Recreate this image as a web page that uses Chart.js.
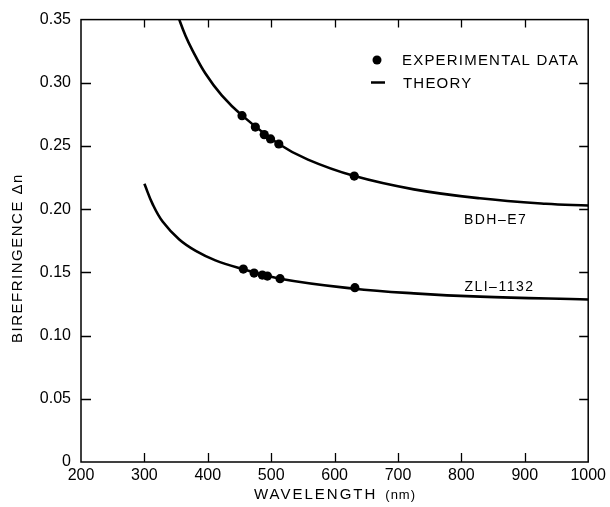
<!DOCTYPE html>
<html>
<head>
<meta charset="utf-8">
<script src="https://cdn.jsdelivr.net/npm/chart.js@4/dist/chart.umd.min.js"></script>
<style>
  html, body { margin: 0; padding: 0; background: #fff; }
  #wrap { width: 610px; height: 507px; }
</style>
</head>
<body>
<div id="wrap"><canvas id="c" width="610" height="507"></canvas></div>
<script>
// Experimental data (wavelength nm, birefringence)
const bdhExpWl = [454, 475, 489, 499, 512, 631];
const bdhExpDn = [0.274, 0.265, 0.259, 0.2556, 0.2516, 0.2262];
const zliExpWl = [456, 473, 486, 494, 514, 632];
const zliExpDn = [0.1526, 0.1495, 0.1479, 0.1471, 0.1450, 0.1379];

// Theory curves
const bdhTheoryWl = [352, 365, 376, 396, 422, 454, 512, 558, 630, 725, 829, 933, 1000];
const bdhTheoryDn = [0.354, 0.337, 0.3255, 0.3075, 0.2900, 0.2742, 0.2516, 0.2392, 0.2264, 0.2157, 0.2086, 0.2043, 0.2029];
const zliTheoryWl = [300, 313, 329, 355, 381, 412, 448, 514, 628, 725, 829, 1000];
const zliTheoryDn = [0.2201, 0.204, 0.190, 0.176, 0.167, 0.1595, 0.1536, 0.1450, 0.1373, 0.1334, 0.1308, 0.1286];

// Axis ticks
const xTickLabels = ['200', '300', '400', '500', '600', '700', '800', '900', '1000'];
const yTickLabels = ['0', '0.05', '0.10', '0.15', '0.20', '0.25', '0.30', '0.35'];

const xTitleMain = 'WAVELENGTH';
const xTitleUnit = '(nm)';
const yTitle = 'BIREFRINGENCE \u0394n';
const legendItems = ['EXPERIMENTAL DATA', 'THEORY'];
const curveLabels = ['BDH\u2013E7', 'ZLI\u20131132'];

const FONT = "'Liberation Sans', Arial, Helvetica, sans-serif";
const toXY = (xs, ys) => xs.map((x, i) => ({ x: x, y: ys[i] }));

const decor = {
  id: 'decor',
  afterDraw(chart) {
    const ctx = chart.ctx;
    const a = chart.chartArea;
    const xs = chart.scales.x, ys = chart.scales.y;
    ctx.save();
    ctx.strokeStyle = '#000';
    ctx.lineWidth = 1.5;
    ctx.strokeRect(a.left, a.top, a.right - a.left, a.bottom - a.top);
    // inward ticks on all four sides
    ctx.lineWidth = 1.3;
    ctx.beginPath();
    xs.ticks.forEach((t, i) => {
      if (i === 0 || i === xs.ticks.length - 1) return;
      const px = Math.round(xs.getPixelForValue(t.value)) + 0.5;
      ctx.moveTo(px, a.bottom); ctx.lineTo(px, a.bottom - 9);
      ctx.moveTo(px, a.top); ctx.lineTo(px, a.top + 8);
    });
    ys.ticks.forEach((t, i) => {
      if (i === 0 || i === ys.ticks.length - 1) return;
      const py = Math.round(ys.getPixelForValue(t.value)) + 0.5;
      ctx.moveTo(a.left, py); ctx.lineTo(a.left + 10, py);
      ctx.moveTo(a.right, py); ctx.lineTo(a.right - 9, py);
    });
    ctx.stroke();

    ctx.fillStyle = '#000';
    ctx.textBaseline = 'middle';
    // x axis title: main word + smaller unit
    ctx.textAlign = 'left';
    ctx.font = '15px ' + FONT;
    ctx.letterSpacing = '2px';
    const w1 = ctx.measureText(xTitleMain).width;
    ctx.font = '13px ' + FONT;
    ctx.letterSpacing = '1px';
    const w2 = ctx.measureText(xTitleUnit).width;
    const gap = 8;
    const total = w1 + gap + w2;
    const x0 = 335 - total / 2;
    ctx.font = '15px ' + FONT;
    ctx.letterSpacing = '2px';
    ctx.fillText(xTitleMain, x0, 495);
    ctx.font = '13px ' + FONT;
    ctx.letterSpacing = '1px';
    ctx.fillText(xTitleUnit, x0 + w1 + gap, 495.5);

    // y axis title
    ctx.textAlign = 'center';
    ctx.save();
    ctx.translate(18, 258);
    ctx.rotate(-Math.PI / 2);
    ctx.font = '15px ' + FONT;
    ctx.letterSpacing = '1.5px';
    ctx.fillText(yTitle, 0, 0);
    ctx.restore();

    // legend
    ctx.letterSpacing = '1.2px';
    ctx.font = '15px ' + FONT;
    ctx.textAlign = 'left';
    ctx.beginPath();
    ctx.arc(377, 60, 4.5, 0, Math.PI * 2);
    ctx.fill();
    ctx.fillText(legendItems[0], 402, 61);
    ctx.lineWidth = 2.5;
    ctx.beginPath();
    ctx.moveTo(371, 82.5); ctx.lineTo(385, 82.5);
    ctx.stroke();
    ctx.fillText(legendItems[1], 403, 84);

    // curve labels
    ctx.font = '14px ' + FONT;
    ctx.letterSpacing = '1.5px';
    ctx.textAlign = 'center';
    ctx.fillText(curveLabels[0], xs.getPixelForValue(854), ys.getPixelForValue(0.1917));
    ctx.fillText(curveLabels[1], xs.getPixelForValue(860), ys.getPixelForValue(0.1387));
    ctx.restore();
  }
};

new Chart(document.getElementById('c'), {
  type: 'scatter',
  data: {
    datasets: [
      { label: 'BDH-E7 theory', data: toXY(bdhTheoryWl, bdhTheoryDn), showLine: true, borderColor: '#000',
        borderWidth: 2.6, pointRadius: 0, tension: 0.4, fill: false },
      { label: 'ZLI-1132 theory', data: toXY(zliTheoryWl, zliTheoryDn), showLine: true, borderColor: '#000',
        borderWidth: 2.6, pointRadius: 0, tension: 0.4, fill: false },
      { label: 'BDH-E7 experimental', data: toXY(bdhExpWl, bdhExpDn), showLine: false,
        backgroundColor: '#000', borderColor: '#000', pointRadius: 4.6, borderWidth: 0 },
      { label: 'ZLI-1132 experimental', data: toXY(zliExpWl, zliExpDn), showLine: false,
        backgroundColor: '#000', borderColor: '#000', pointRadius: 4.6, borderWidth: 0 }
    ]
  },
  options: {
    responsive: false,
    animation: false,
    devicePixelRatio: 1,
    layout: { padding: { top: 18, right: 17, left: 0, bottom: 0 } },
    plugins: { legend: { display: false }, tooltip: { enabled: false } },
    scales: {
      x: {
        type: 'linear', min: 200, max: 1000,
        afterFit(s) { s.height = 45; },
        ticks: { stepSize: 100, padding: 4, color: '#000', font: { family: FONT, size: 16 },
                 maxRotation: 0, autoSkip: false,
                 callback: (v, i) => xTickLabels[i] },
        grid: { display: false, drawTicks: false },
        border: { display: false }
      },
      y: {
        type: 'linear', min: 0, max: 0.35,
        afterFit(s) { s.width = 81; },
        ticks: { stepSize: 0.05, padding: 10, color: '#000', font: { family: FONT, size: 16 },
                 autoSkip: false,
                 callback: (v, i) => yTickLabels[i] },
        grid: { display: false, drawTicks: false },
        border: { display: false }
      }
    }
  },
  plugins: [decor]
});
</script>
</body>
</html>
